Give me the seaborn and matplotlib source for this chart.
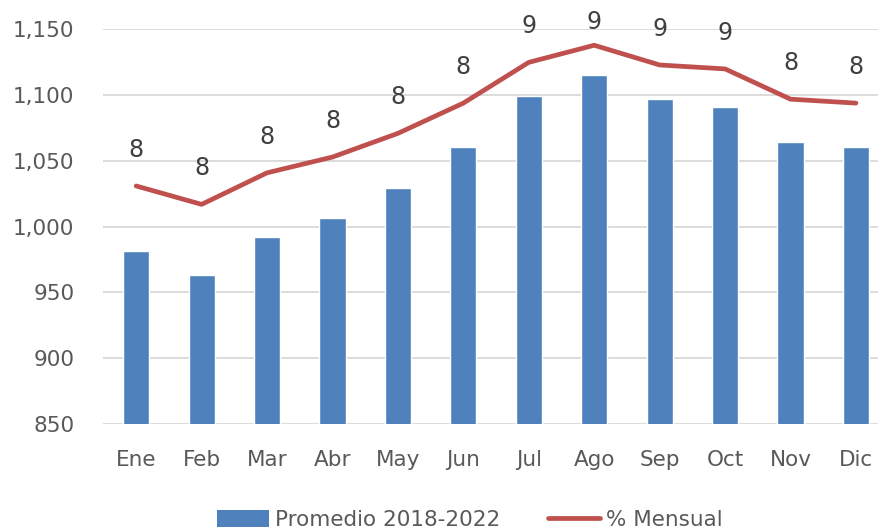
import numpy as np
import pandas as pd
import matplotlib
matplotlib.use("Agg")
import matplotlib.pyplot as plt
import seaborn as sns
from matplotlib.patches import Patch
from matplotlib.lines import Line2D

months = ["Ene", "Feb", "Mar", "Abr", "May", "Jun", "Jul", "Ago", "Sep", "Oct", "Nov", "Dic"]
promedio = [981.7, 963.4, 992.3, 1006.8, 1029.4, 1060.6, 1099.1, 1115.4, 1096.8, 1091.2, 1064.1, 1060.6]
pct_mensual = [7.81, 7.67, 7.91, 8.03, 8.21, 8.44, 8.75, 8.88, 8.73, 8.70, 8.47, 8.44]

BLUE = "#4F81BD"
RED = "#C0504D"
GRID = "#D9D9D9"
TXT = "#595959"

sns.set_theme(style="white")
plt.rcParams["font.family"] = ["DejaVu Sans"]

df = pd.DataFrame({"mes": months, "promedio": promedio, "pct": pct_mensual})
df["pos"] = np.arange(len(months))

fig = plt.figure(figsize=(8.79, 5.31), dpi=100)
ax = fig.add_axes([0.1177, 0.2015, 0.8933, 0.743])

sns.barplot(data=df, x="mes", y="promedio", color=BLUE, width=0.4,
            saturation=1, ax=ax, zorder=2)
ax.set_ylim(850, 1150)
ax.set_xlim(-0.5, 11.5)
ax.set_yticks(range(850, 1151, 50))
ax.set_yticklabels([f"{v:,}" for v in range(850, 1151, 50)])
ax.yaxis.grid(True, color=GRID, linewidth=1.3, zorder=0)
ax.set_axisbelow(True)
for s in ax.spines.values():
    s.set_visible(False)
ax.tick_params(axis="both", length=0, labelsize=15.5, labelcolor=TXT)
ax.tick_params(axis="x", pad=19)
ax.tick_params(axis="y", pad=21)
ax.set_xlabel("")
ax.set_ylabel("")

ax2 = ax.twinx()
sns.lineplot(data=df, x="pos", y="pct", color=RED, linewidth=3.4, ax=ax2,
             solid_capstyle="round", solid_joinstyle="round")
ax2.set_ylim(6, 9)
ax2.set_xlim(-0.5, 11.5)
ax2.axis("off")

# labels sit ~36 px above the point, but are kept inside the top of the figure
fig_h = fig.get_size_inches()[1] * fig.dpi
for x, v in zip(df["pos"], df["pct"]):
    y_px = ax2.transData.transform((x, v))[1]
    off_px = min(36, fig_h - 22 - y_px)
    ax2.annotate(f"{v:.0f}", (x, v), xytext=(0, off_px * 72 / fig.dpi),
                 textcoords="offset points", ha="center", va="center",
                 fontsize=17, color="#404040")

handles = [Patch(facecolor=BLUE, edgecolor="none", label="Promedio 2018-2022"),
           Line2D([0], [0], color=RED, linewidth=3.4, solid_capstyle="round",
                  label="% Mensual")]
fig.legend(handles=handles, loc="center", bbox_to_anchor=(470 / 879, 1 - 520 / 531),
           ncol=2, frameon=False, fontsize=15.5, labelcolor=TXT,
           handlelength=2.4, handleheight=0.8, handletextpad=0.3, columnspacing=2.2)

fig.savefig("out.png", dpi=100)
